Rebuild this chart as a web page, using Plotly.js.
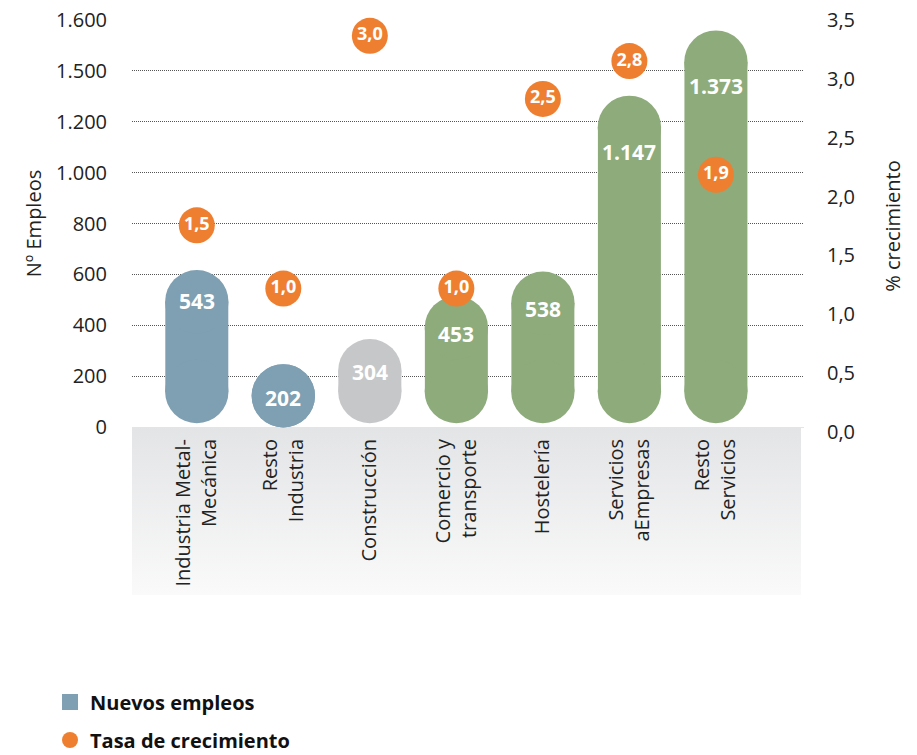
<!DOCTYPE html>
<html>
<head>
<meta charset="utf-8">
<script src="https://cdn.plot.ly/plotly-3.0.1.min.js"></script>
<style>html,body{margin:0;padding:0;background:#fff;}#chart{width:917px;height:755px;}</style>
</head>
<body>
<div id="chart"></div>
<script>
// ---- data ----
const categories = ['Industria Metal-<br>Mecánica', 'Resto<br>Industria', 'Construcción', 'Comercio y<br>transporte', 'Hostelería', 'Servicios<br>aEmpresas', 'Resto<br>Servicios'];
const empleos = [543, 202, 304, 453, 538, 1147, 1373];
const empleosLabels = ['543', '202', '304', '453', '538', '1.147', '1.373'];
const tasa = [1.5, 1.0, 3.0, 1.0, 2.5, 2.8, 1.9];
const tasaLabels = ['1,5', '1,0', '3,0', '1,0', '2,5', '2,8', '1,9'];
const leftTickText = ['0', '200', '400', '600', '800', '1.000', '1.200', '1.500', '1.600'];
const rightTickText = ['0,0', '0,5', '1,0', '1,5', '2,0', '2,5', '3,0', '3,5'];
const rightTickVals = [0, 0.5, 1.0, 1.5, 2.0, 2.5, 3.0, 3.5];
const seriesNames = ['Nuevos empleos', 'Tasa de crecimiento'];

// ---- styles ----
const BLUE = '#7f9fb2', GREY = '#c6c7c9', GREEN = '#8eab7b', ORANGE = '#ee7f31';
const barColors = [BLUE, BLUE, GREY, GREEN, GREEN, GREEN, GREEN];
const labelShift = [-31, -29, -33, -38, -37, -56, -55];
const FONT = '"Open Sans", "Noto Sans", sans-serif';
const TXT = '#222';
const Y1MAX = 1410;
const Y2RANGE = [-0.096, 3.125];
const BW = 0.728;          // bar width (category units)  -> 63 px
const CAP_PX = 63.4;       // round cap diameter in px
const CAP_R = 109;         // cap radius expressed in left-axis units
const CAP_BASE = 123;      // centre of the bottom round cap (left-axis units)

// pill geometry (in data units of the left axis)
const topC = [], botC = [];
empleos.forEach(v => {
  let t = v - CAP_R, b = CAP_BASE;
  if (t < b) { t = b = (t + b) / 2; }
  topC.push(t); botC.push(b);
});

const bars = {
  type: 'bar', x: categories, y: topC.map((t, i) => t - botC[i]), base: botC,
  width: BW, marker: {color: barColors, line: {width: 0}},
  showlegend: false, hoverinfo: 'skip', yaxis: 'y'
};
const capsTop = {
  type: 'scatter', mode: 'markers', x: categories, y: topC, yaxis: 'y',
  marker: {size: CAP_PX, color: barColors, line: {width: 0}},
  showlegend: false, hoverinfo: 'skip', cliponaxis: false
};
const capsBottom = {
  type: 'scatter', mode: 'markers', x: categories, y: botC, yaxis: 'y',
  marker: {size: CAP_PX, color: barColors, line: {width: 0}},
  showlegend: false, hoverinfo: 'skip', cliponaxis: false
};
const dots = {
  type: 'scatter', mode: 'markers+text', x: categories, y: tasa, yaxis: 'y2',
  text: tasaLabels, textposition: 'middle center',
  textfont: {family: FONT, size: 18, color: '#fff', weight: 'bold'},
  marker: {size: 36, color: ORANGE, line: {width: 0}},
  showlegend: false, hoverinfo: 'skip', cliponaxis: false
};
const rightAxisHolder = {type: 'scatter', mode: 'markers', x: [null], y: [null], yaxis: 'y3',
  showlegend: false, hoverinfo: 'skip'};
const legA = {type: 'scatter', mode: 'markers', x: [null], y: [null], name: seriesNames[0], legendgroup: 'a',
  marker: {symbol: 'square', size: 16, color: BLUE}, hoverinfo: 'skip'};
const legB = {type: 'scatter', mode: 'markers', x: [null], y: [null], name: seriesNames[1], legendgroup: 'b',
  marker: {symbol: 'circle', size: 16, color: ORANGE}, hoverinfo: 'skip'};

const annotations = empleos.map((v, i) => ({
  x: categories[i], y: v, xref: 'x', yref: 'y', text: empleosLabels[i], showarrow: false,
  yanchor: 'middle', yshift: labelShift[i],
  font: {family: FONT, size: 21, color: '#fff', weight: 'bold'}
}));

const svg = "<svg xmlns='http://www.w3.org/2000/svg' width='10' height='10' viewBox='0 0 10 10' preserveAspectRatio='none'>" +
  "<defs><linearGradient id='g' x1='0' y1='0' x2='0' y2='1'><stop offset='0' stop-color='#e3e4e6'/><stop offset='1' stop-color='#fafafa'/></linearGradient></defs>" +
  "<rect width='10' height='10' fill='url(#g)'/></svg>";
const band = 'data:image/svg+xml;charset=utf-8,' + encodeURIComponent(svg);

const layout = {
  width: 917, height: 755,
  margin: {l: 132, r: 113, t: 20, b: 323, pad: 0, autoexpand: false},
  paper_bgcolor: '#fff', plot_bgcolor: 'rgba(0,0,0,0)',
  font: {family: FONT, size: 20, color: TXT},
  barmode: 'overlay',
  xaxis: {
    type: 'category', range: [-0.749, 7.018], showgrid: false, zeroline: false, showline: false,
    tickangle: -90, ticks: 'outside', ticklen: 3, tickcolor: 'rgba(0,0,0,0)',
    tickfont: {family: FONT, size: 20, color: TXT}, anchor: 'y', fixedrange: true
  },
  yaxis: {
    domain: [5 / 412, 1], range: [0, Y1MAX],
    tickvals: leftTickText.map((t, k) => k * Y1MAX / (leftTickText.length - 1)),
    ticktext: leftTickText,
    showgrid: true, gridcolor: '#555', griddash: '1px,1px', gridwidth: 1,
    zeroline: true, zerolinecolor: '#e3e4e6', zerolinewidth: 1, showline: false,
    ticks: 'outside', ticklen: 20, tickcolor: 'rgba(0,0,0,0)',
    tickfont: {family: FONT, size: 20, color: TXT},
    title: {text: 'Nº Empleos', font: {family: FONT, size: 20, color: TXT}, standoff: 9},
    fixedrange: true
  },
  yaxis2: {
    overlaying: 'y', side: 'right', range: Y2RANGE, visible: false, showgrid: false, fixedrange: true
  },
  yaxis3: {
    anchor: 'x', side: 'right', domain: [0, 1], range: [0, 3.5],
    tickvals: rightTickVals, ticktext: rightTickText,
    showgrid: false, zeroline: false, showline: false,
    ticks: 'outside', ticklen: 18, tickcolor: 'rgba(0,0,0,0)',
    tickfont: {family: FONT, size: 20, color: TXT},
    title: {text: '% crecimiento', font: {family: FONT, size: 20, color: TXT}, standoff: 31},
    fixedrange: true
  },
  legend: {
    x: -0.122, xanchor: 'left', y: -0.608, yanchor: 'top', orientation: 'v',
    font: {family: FONT, size: 20, color: '#111', weight: 'bold'},
    tracegroupgap: 9, bgcolor: 'rgba(0,0,0,0)', itemclick: false, itemdoubleclick: false
  },
  showlegend: true,
  annotations: annotations,
  images: [{
    source: band, xref: 'paper', yref: 'paper', x: 0, y: 5 / 412,
    sizex: (801 - 132) / 672, sizey: (595 - 427) / 412,
    xanchor: 'left', yanchor: 'top', sizing: 'stretch', layer: 'below'
  }]
};

Plotly.newPlot('chart', [bars, capsBottom, capsTop, dots, rightAxisHolder, legA, legB], layout, {displayModeBar: false, staticPlot: true});
</script>
</body>
</html>
